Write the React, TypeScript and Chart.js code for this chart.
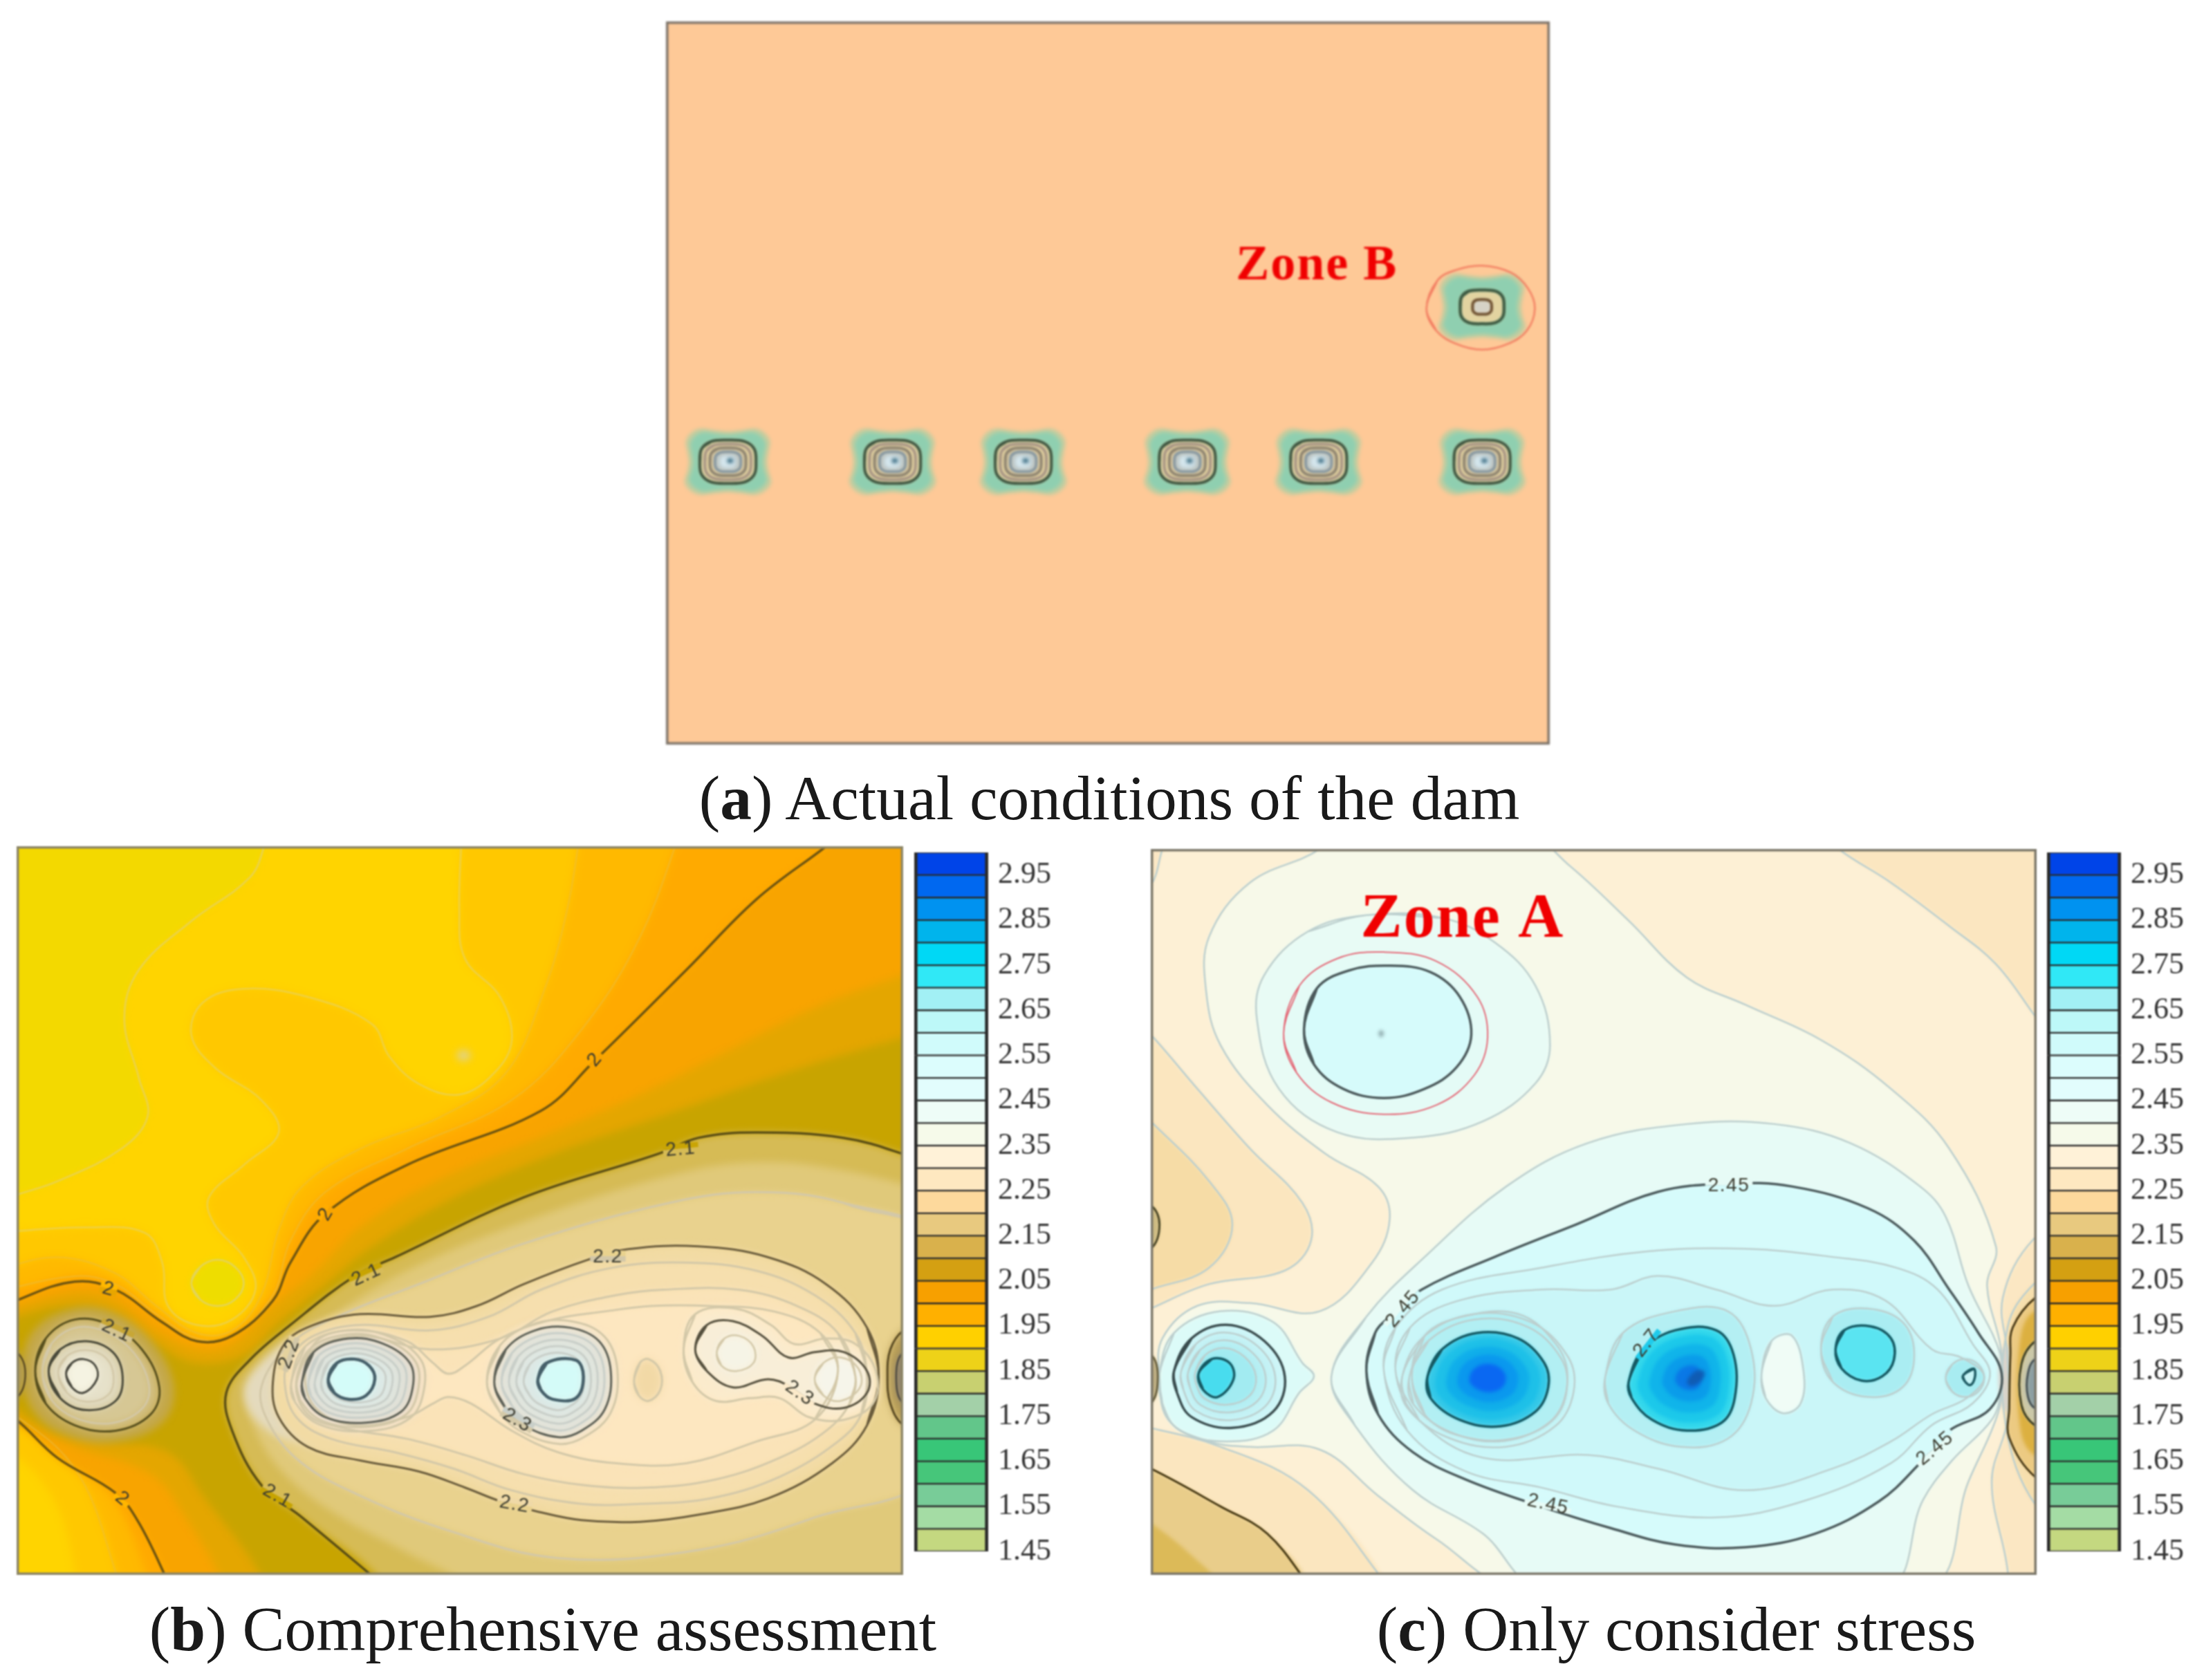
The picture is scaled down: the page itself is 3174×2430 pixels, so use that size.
import React, { useEffect, useRef } from "react";
import { Chart, registerables } from "chart.js";

Chart.register(...registerables);

type P = number[];

// ---------- colour scale ----------
const scaleTicks = [2.95, 2.85, 2.75, 2.65, 2.55, 2.45, 2.35, 2.25, 2.15, 2.05, 1.95, 1.85, 1.75, 1.65, 1.55, 1.45];
const scaleEdges = [3.0, 2.95, 2.9, 2.85, 2.8, 2.75, 2.7, 2.65, 2.6, 2.55, 2.5, 2.45, 2.4, 2.35, 2.3, 2.25, 2.2, 2.15, 2.1, 2.05, 2.0, 1.95, 1.9, 1.85, 1.8, 1.75, 1.7, 1.65, 1.6, 1.55, 1.5, 1.45];
const scaleColours = ["#0044e8", "#0068f0", "#0092f0", "#00b4ec", "#00d8f5", "#30e8f6", "#a2f0f5", "#bdf8f8", "#d0fbfb", "#dcfdfd", "#e2fdfd", "#eefdf7", "#f6faea", "#fff2d8", "#fee8c0", "#fdd99c", "#e8c97f", "#d9b14c", "#d4a012", "#f7a000", "#ffb000", "#ffd000", "#eed218", "#c8d070", "#a3d0a8", "#62c68a", "#38c678", "#46c67a", "#78cc98", "#a4dca4", "#c4d880"];

// ---------- panel (a) ----------
const aSites: P[] = [[125, 848], [412, 848], [640, 848], [926, 848], [1155, 848], [1440, 848]];
const aZoneSite: P = [1440, 555];
const aHalo: P[] = [[-66, -38], [-48, -56], [-20, -54], [0, -52], [20, -54], [48, -56], [66, -38], [64, -15], [62, 0], [64, 15], [68, 38], [48, 56], [20, 54], [0, 52], [-20, 54], [-48, 56], [-68, 38], [-64, 15], [-62, 0], [-64, -15]];
const aRing: P[] = [[-46, -24], [-30, -38], [0, -41], [30, -38], [46, -24], [49, 0], [46, 24], [30, 38], [0, 41], [-30, 38], [-46, 24], [-49, 0]];
const aZoneCircle: P[] = [[1343, 558], [1362, 505], [1395, 485], [1440, 477], [1490, 490], [1520, 520], [1532, 558], [1518, 600], [1485, 625], [1440, 636], [1395, 625], [1360, 600]];
const aBounds: P = [17, 1558, 15, 1383];

// ---------- panel (b) ----------
const bBounds: P = [30, 1552, 32, 1376];
const bNW: P[] = [[460, -10], [455, 32], [430, 90], [330, 170], [240, 260], [215, 350], [240, 460], [255, 530], [210, 590], [100, 650], [30, 675], [-10, 690]];
const bO1: P[] = [[795, -10], [790, 150], [800, 240], [860, 310], [880, 390], [850, 450], [790, 490], [720, 470], [670, 420], [640, 360], [530, 310], [420, 295], [350, 320], [330, 380], [370, 440], [450, 500], [480, 560], [420, 620], [360, 680], [370, 730], [420, 790], [440, 850], [400, 905], [340, 915], [290, 880], [280, 800], [250, 745], [150, 735], [-10, 745]];
const bO1Low: P[] = [[-10, 1130], [90, 1230], [135, 1400]];
const bO2: P[] = [[1000, -10], [975, 150], [935, 300], [870, 450], [760, 530], [620, 590], [520, 660], [480, 740], [450, 860], [400, 925], [340, 930], [270, 880], [200, 820], [100, 790], [-10, 815]];
const bO2Low: P[] = [[-10, 1050], [130, 1180], [210, 1400]];
const bO3: P[] = [[1175, -10], [1100, 200], [1000, 370], [880, 500], [700, 590], [560, 670], [500, 760], [470, 860], [400, 935], [340, 940], [270, 895], [200, 840], [130, 825], [-10, 855]];
const bO3Low: P[] = [[-10, 1075], [170, 1200], [260, 1400]];
const b20Upper: P[] = [[1450, 5], [1420, 32], [1300, 130], [1180, 260], [1020, 430], [930, 520], [700, 620], [560, 710], [500, 800], [470, 870], [400, 935], [340, 945], [280, 910], [200, 850], [130, 835], [30, 870], [-10, 895]];
const b20Lower: P[] = [[-10, 1065], [30, 1090], [100, 1160], [200, 1225], [240, 1280], [295, 1400]];
const bD2: P[] = [[1640, 245], [1552, 270], [1400, 330], [1250, 410], [1100, 490], [950, 560], [750, 650], [620, 735], [540, 820], [470, 880], [400, 950], [340, 960], [270, 925], [200, 870], [130, 855], [-10, 890]];
const bD2Low: P[] = [[-10, 1080], [130, 1140], [260, 1190], [320, 1270], [385, 1400]];
const bD3: P[] = [[1640, 365], [1552, 385], [1350, 450], [1150, 525], [950, 600], [780, 680], [640, 770], [560, 840], [480, 910], [420, 970], [340, 985], [270, 950], [190, 890], [110, 880], [-10, 910]];
const bD3Low: P[] = [[-10, 1050], [90, 1110], [170, 1130], [290, 1150], [350, 1230], [460, 1400]];
const b21Main: P[] = [[1600, 625], [1552, 600], [1450, 570], [1300, 560], [1200, 570], [1130, 600], [900, 680], [680, 790], [610, 825], [500, 915], [430, 980], [390, 1040], [400, 1110], [450, 1210], [520, 1270], [665, 1400]];
const bB1: P[] = [[1640, 680], [1450, 630], [1300, 615], [1150, 640], [900, 725], [700, 815], [560, 905], [470, 965], [425, 1040], [440, 1110], [490, 1190], [580, 1265], [700, 1335], [800, 1400]];
const bB2: P[] = [[1600, 760], [1450, 690], [1300, 670], [1150, 690], [900, 765], [720, 840], [580, 900], [500, 950], [450, 1030], [465, 1100], [520, 1170], [620, 1230], [760, 1290], [960, 1345], [1200, 1330], [1400, 1270], [1600, 1180]];
const bWestGlow: P[] = [[420, 1040], [450, 985], [510, 940], [580, 925], [580, 1130], [510, 1130], [450, 1100]];
const b22: P[] = [[1510, 1010], [1490, 920], [1420, 840], [1320, 790], [1200, 770], [1080, 775], [1010, 795], [900, 840], [820, 880], [740, 900], [620, 895], [540, 915], [490, 950], [470, 1020], [480, 1085], [530, 1140], [620, 1165], [720, 1185], [800, 1215], [860, 1240], [920, 1258], [1000, 1275], [1100, 1278], [1200, 1265], [1320, 1235], [1430, 1170], [1490, 1100]];
const bT1: P[] = [[1490, 1010], [1470, 930], [1400, 860], [1300, 815], [1180, 800], [1050, 810], [930, 850], [840, 900], [740, 925], [620, 915], [540, 935], [500, 975], [490, 1020], [510, 1085], [570, 1125], [680, 1150], [780, 1180], [880, 1220], [1000, 1245], [1100, 1245], [1220, 1235], [1340, 1195], [1440, 1130], [1480, 1080]];
const bT2: P[] = [[1470, 1010], [1440, 930], [1370, 880], [1270, 850], [1140, 850], [1060, 860], [950, 890], [860, 940], [740, 960], [620, 935], [540, 960], [510, 1020], [530, 1080], [590, 1105], [700, 1125], [800, 1155], [900, 1190], [1000, 1210], [1110, 1215], [1230, 1200], [1340, 1160], [1420, 1110], [1460, 1060]];
const bT3: P[] = [[1440, 1000], [1410, 930], [1330, 890], [1220, 880], [1120, 880], [1040, 890], [950, 905], [860, 940], [800, 990], [771, 1005], [745, 985], [700, 945], [610, 925], [545, 945], [525, 1010], [545, 1070], [610, 1100], [700, 1085], [745, 1060], [771, 1048], [810, 1060], [880, 1110], [960, 1150], [1060, 1170], [1180, 1170], [1300, 1130], [1400, 1090]];
const bLeft21: P[] = [[62, 1000], [80, 940], [130, 905], [190, 915], [245, 960], [275, 1030], [260, 1080], [200, 1110], [130, 1100], [80, 1060]];
const bLeftHalo: P[] = [[40, 1000], [60, 925], [130, 885], [200, 895], [265, 950], [300, 1030], [280, 1095], [200, 1130], [120, 1120], [60, 1075]];
const bLeft22: P[] = [[85, 1000], [105, 960], [150, 945], [195, 965], [212, 1010], [200, 1055], [150, 1072], [105, 1050]];
const bLeft23: P[] = [[115, 1005], [125, 985], [145, 978], [165, 990], [168, 1015], [145, 1040], [125, 1030]];
const bBlob1: P[] = [[520, 1020], [540, 965], [600, 940], [660, 950], [705, 985], [710, 1030], [690, 1075], [630, 1095], [560, 1085], [525, 1050]];
const bBlob1Core: P[] = [[565, 1015], [580, 985], [610, 978], [635, 990], [645, 1015], [630, 1045], [600, 1052], [575, 1040]];
const bBlob1Centre: P = [612, 1017];
const bBlob2: P[] = [[850, 1020], [870, 960], [920, 925], [980, 920], [1030, 945], [1050, 1000], [1040, 1070], [1000, 1110], [960, 1122], [900, 1100], [870, 1070]];
const bBlob2Core: P[] = [[925, 1015], [940, 985], [990, 980], [1003, 1010], [990, 1050], [950, 1052], [930, 1035]];
const bBlob2Centre: P = [955, 1018];
const bBlob3: P[] = [[1195, 960], [1215, 915], [1260, 908], [1310, 935], [1355, 975], [1400, 965], [1450, 965], [1490, 1000], [1490, 1040], [1450, 1068], [1400, 1060], [1360, 1030], [1320, 1015], [1260, 1030], [1215, 1000]];
const bBlob3Outer: P[] = [[1175, 960], [1195, 895], [1265, 885], [1325, 915], [1365, 950], [1420, 940], [1470, 950], [1505, 1000], [1500, 1060], [1450, 1090], [1390, 1085], [1340, 1050], [1290, 1050], [1230, 1055], [1190, 1020]];
const bBlob3A: P[] = [[1232, 965], [1245, 940], [1270, 935], [1295, 955], [1295, 985], [1265, 1000], [1240, 990]];
const bBlob3B: P[] = [[1400, 1015], [1415, 985], [1445, 975], [1475, 995], [1478, 1030], [1445, 1055], [1415, 1045]];
const bOval: P[] = [[1090, 1018], [1100, 985], [1115, 978], [1135, 1000], [1135, 1035], [1115, 1055], [1098, 1045]];
const bEdgeR1: P[] = [[1600, 900], [1552, 925], [1530, 960], [1525, 1010], [1530, 1060], [1552, 1100], [1600, 1120]];
const bEdgeR2: P[] = [[1600, 950], [1552, 965], [1540, 1010], [1552, 1060], [1600, 1070]];
const bEdgeL: P[] = [[-10, 955], [30, 965], [45, 1005], [30, 1050], [-10, 1060]];
const bSpot: P[] = [[785, 418], [797, 408], [810, 418], [797, 428]];
const bCircle: P[] = [[330, 838], [345, 808], [375, 795], [405, 808], [420, 838], [405, 868], [375, 880], [345, 868]];
const bLabelText = ["2", "2", "2", "2", "2.1", "2.1", "2.1", "2.1", "2.2", "2.2", "2.2", "2.3", "2.3"];
const bLabelX = [1022, 560, 188, 212, 1170, 630, 202, 478, 1045, 497, 885, 890, 1375];
const bLabelY = [425, 710, 848, 1235, 590, 822, 925, 1230, 788, 968, 1245, 1090, 1040];
const bLabelAngle = [-50, -60, 15, 40, -5, -25, 25, 30, 0, -70, 10, 30, 35];

// ---------- panel (c) ----------
const cBounds: P = [30, 1550, 38, 1376];
const cNWCorner: P[] = [[65, -10], [50, 38], [30, 105], [-10, 135]];
const cCorner: P[] = [[1165, -10], [1210, 38], [1300, 100], [1400, 180], [1480, 250], [1550, 350], [1600, 420]];
const cPale: P[] = [[350, -10], [320, 38], [200, 100], [130, 200], [125, 300], [150, 400], [230, 510], [330, 600], [420, 660], [440, 720], [410, 800], [320, 890], [200, 875], [110, 880], [50, 940], [45, 1010], [60, 1090], [130, 1130], [200, 1140], [320, 1145], [420, 1230], [520, 1310], [660, 1400], [1360, 1400], [1433, 1204], [1484, 1077], [1490, 1010], [1488, 954], [1465, 843], [1480, 770], [1400, 590], [1300, 480], [1180, 390], [1050, 325], [950, 275], [850, 170], [750, 70], [650, -10]];
const cLeft1: P[] = [[-10, 500], [30, 540], [130, 650], [170, 730], [130, 810], [30, 850], [-10, 865]];
const cLeft2: P[] = [[-10, 340], [30, 380], [110, 480], [200, 590], [290, 690], [305, 760], [260, 815], [130, 840], [30, 885], [-10, 905]];
const cSW0: P[] = [[-10, 1095], [150, 1140], [300, 1220], [440, 1400]];
const cSW1: P[] = [[-10, 1165], [30, 1180], [150, 1250], [230, 1300], [305, 1400]];
const cSW2: P[] = [[-10, 1255], [30, 1280], [100, 1340], [150, 1400]];
const cTopLobe: P[] = [[400, 160], [300, 190], [225, 270], [212, 350], [250, 480], [350, 560], [480, 570], [600, 540], [690, 470], [715, 400], [690, 290], [620, 210], [530, 165]];
const cTopCore: P[] = [[293, 370], [315, 295], [370, 262], [440, 253], [510, 265], [560, 310], [580, 380], [555, 440], [500, 480], [430, 497], [360, 480], [310, 435]];
const cTopRed: P[] = [[258, 378], [285, 290], [350, 240], [430, 228], [520, 245], [590, 310], [608, 385], [585, 455], [520, 510], [430, 527], [340, 505], [280, 450]];
const cTopDot: P[] = [[421, 378], [425, 372], [430, 378], [425, 385]];
const cM0: P[] = [[340, 1010], [400, 900], [500, 790], [640, 660], [780, 580], [950, 545], [1100, 545], [1230, 580], [1350, 660], [1394, 716], [1433, 843], [1488, 970], [1488, 1040], [1473, 1090], [1405, 1165], [1355, 1238], [1290, 1400], [700, 1400], [600, 1300], [480, 1220], [380, 1100]];
const cM1: P[] = [[400, 1000], [415, 930], [440, 900], [495, 850], [620, 790], [760, 730], [900, 670], [1020, 655], [1130, 660], [1260, 700], [1340, 760], [1400, 850], [1450, 930], [1490, 1005], [1470, 1070], [1400, 1110], [1350, 1170], [1280, 1240], [1170, 1300], [1050, 1325], [930, 1320], [820, 1290], [700, 1250], [570, 1200], [480, 1150], [420, 1080]];
const cM2: P[] = [[430, 1000], [450, 920], [530, 850], [700, 810], [880, 780], [1050, 775], [1200, 790], [1310, 810], [1380, 850], [1440, 950], [1470, 1005], [1440, 1060], [1370, 1100], [1300, 1170], [1150, 1240], [1000, 1270], [830, 1250], [700, 1215], [570, 1185], [470, 1110]];
const cM3: P[] = [[450, 1000], [475, 920], [560, 870], [700, 850], [820, 850], [900, 825], [1000, 850], [1100, 880], [1200, 850], [1290, 870], [1370, 960], [1420, 975], [1460, 1010], [1430, 1050], [1370, 1080], [1300, 1130], [1200, 1180], [1050, 1220], [900, 1180], [780, 1155], [600, 1160], [490, 1090]];
const cA0: P[] = [[478, 1010], [500, 935], [565, 900], [660, 895], [725, 950], [745, 1010], [725, 1085], [650, 1125], [555, 1118], [500, 1080]];
const cA1: P[] = [[505, 1010], [530, 960], [590, 930], [660, 940], [705, 985], [712, 1030], [690, 1075], [630, 1102], [560, 1090], [510, 1050]];
const cACentre: P = [608, 1012];
const cB0: P[] = [[810, 1010], [840, 930], [930, 890], [1020, 890], [1060, 960], [1060, 1060], [1020, 1125], [940, 1140], [860, 1110], [815, 1060]];
const cB1: P[] = [[850, 1020], [875, 960], [930, 925], [1000, 925], [1030, 970], [1032, 1050], [1010, 1095], [950, 1110], [890, 1090], [855, 1050]];
const cBCentre: P = [955, 1012];
const cBSpot: P[] = [[950, 1020], [965, 1000], [980, 1002], [975, 1018], [958, 1028]];
const cC0: P[] = [[1180, 960], [1200, 900], [1260, 885], [1320, 910], [1340, 970], [1320, 1030], [1260, 1048], [1200, 1020]];
const cC1: P[] = [[1205, 960], [1220, 925], [1265, 918], [1300, 940], [1305, 980], [1285, 1010], [1250, 1018], [1215, 995]];
const cD0: P[] = [[1394, 1013], [1405, 988], [1427, 978], [1450, 988], [1460, 1013], [1450, 1038], [1427, 1048], [1405, 1038]];
const cD1: P[] = [[1424, 1008], [1442, 996], [1444, 1012], [1436, 1026], [1426, 1018]];
const cOval: P[] = [[1078, 1005], [1095, 945], [1130, 935], [1150, 1000], [1145, 1060], [1115, 1078], [1085, 1050]];
const cE0: P[] = [[45, 1005], [70, 930], [150, 890], [240, 910], [290, 985], [310, 1010], [285, 1040], [240, 1110], [160, 1130], [80, 1110], [50, 1060]];
const cE1: P[] = [[70, 1000], [100, 940], [160, 915], [225, 945], [260, 1010], [240, 1075], [170, 1105], [100, 1085], [75, 1040]];
const cE3: P[] = [[112, 1005], [135, 978], [165, 985], [172, 1015], [145, 1048], [120, 1035]];
const cECentre: P = [150, 1010];
const cEdgeL1: P[] = [[-10, 690], [30, 695], [45, 730], [30, 775], [-10, 780]];
const cEdgeL2: P[] = [[-10, 965], [30, 970], [42, 1010], [30, 1060], [-10, 1065]];
const cCream: P[] = [[1600, 740], [1544, 758], [1492, 865], [1500, 971], [1500, 1090], [1473, 1204], [1500, 1366], [1505, 1480]];
const cCream2: P[] = [[1600, 810], [1545, 840], [1500, 920], [1497, 1100], [1548, 1247], [1600, 1260]];
const cApex: P[] = [[1488, 965], [1504, 955], [1504, 1075], [1488, 1060]];
const cEdgeR1: P[] = [[1600, 840], [1548, 865], [1509, 920], [1505, 971], [1503, 1069], [1503, 1123], [1548, 1196], [1600, 1215]];
const cEdgeGold: P[] = [[1600, 880], [1540, 895], [1520, 960], [1520, 1090], [1540, 1150], [1600, 1170]];
const cEdgeR2: P[] = [[1600, 925], [1548, 945], [1524, 987], [1524, 1063], [1548, 1101], [1600, 1120]];
const cEdgeR3: P[] = [[1600, 960], [1548, 978], [1535, 1005], [1535, 1047], [1548, 1069], [1600, 1080]];
const cLabelText = ["2.45", "2.45", "2.45", "2.45", "2.7"];
const cLabelX = [1022, 462, 712, 1375, 880];
const cLabelY = [658, 885, 1245, 1142, 948];
const cLabelAngle = [0, -50, 12, -40, -52];

// ---------- helpers ----------
type Layer = { p: P[]; fill?: string; line?: string; w?: number; flat?: boolean };
const X0 = -80, X1 = 1650, Y0 = -80, Y1 = 1480;
// closes a contour so the spline also stays smooth where it meets its own start
const loop = (p: P[]): P[] => [p[p.length - 1], ...p, p[0], p[1]];
const around = (p: P[], c: P, k: number): P[] => loop(p.map(([x, y]) => [c[0] + (x - c[0]) * k, c[1] + (y - c[1]) * k]));
const place = (site: P, tpl: P[], k = 1): P[] => loop(tpl.map(([dx, dy]) => [site[0] + dx * k, site[1] + dy * k]));
const thinB = "#d3c8a8";
const thinBlob = "#c9cfc9";
const thinC = "#bccfce";
const thinO = "rgba(232,190,70,0.55)";
const rect: P[] = [[X0, Y0], [X1, Y0], [X1, Y1], [X0, Y1]];

const aLayers: Layer[] = [
  { p: rect, fill: "#fec997", flat: true },
  ...[...aSites, aZoneSite].flatMap((s): Layer[] => [
    { p: place(s, aHalo, 1.1), fill: "#c0cda0" },
    { p: place(s, aHalo, 0.98), fill: "#8fcfb0" },
  ]),
  ...aSites.flatMap((s): Layer[] => [
    { p: place(s, aRing), fill: "#dccb9c", line: "#3f5540", w: 4 },
    { p: place(s, aRing, 0.82), fill: "#e0cf9e", line: "#a89684", w: 4 },
    { p: place(s, aRing, 0.64), fill: "#d2c29c", line: "#8e8470", w: 4 },
    { p: place(s, aRing, 0.46), fill: "#bcc6c6", line: "#8a9aa2", w: 4 },
    { p: place(s, aRing, 0.28), fill: "#d6e8ef" },
    { p: place([s[0] + 4, s[1] - 2], aRing, 0.1), fill: "#174f68" },
  ]),
  { p: place(aZoneSite, aRing, 0.78), fill: "#e2d3a0", line: "#3d5a42", w: 4.5 },
  { p: place(aZoneSite, aRing, 0.34), fill: "#d6d2c6", line: "#6e5030", w: 4 },
  { p: loop(aZoneCircle), line: "#f27c60", w: 2.5 },
  { p: [[17, 15], [1558, 15], [1558, 1383], [17, 1383], [17, 15]], line: "#7b7268", w: 7, flat: true },
];

const bLayers: Layer[] = [
  { p: rect, fill: "#ffd400", flat: true },
  { p: [...bNW, [X0, 690], [X0, Y0], [460, Y0]], fill: "#f3d900" },
  { p: bNW, line: "rgba(226,208,110,0.7)", w: 2.5 },
  { p: [...bO1, [X0, 745], [X0, 1130], ...bO1Low, [135, Y1], [X1, Y1], [X1, Y0], [795, Y0]], fill: "#ffc800" },
  { p: bO1, line: "rgba(232,208,90,0.75)", w: 2.5 },
  { p: loop(bCircle), fill: "#eedd00", line: "#e2d45a", w: 2.5 },
  { p: loop(bSpot), fill: "#e0d290" },
  { p: [...bO2, [X0, 815], [X0, 1050], ...bO2Low, [210, Y1], [X1, Y1], [X1, Y0], [1000, Y0]], fill: "#ffb900" },
  { p: bO2, line: thinO, w: 2 },
  { p: bO2Low, line: thinO, w: 2 },
  { p: [...bO3, [X0, 855], [X0, 1075], ...bO3Low, [260, Y1], [X1, Y1], [X1, Y0], [1175, Y0]], fill: "#ffaa00" },
  { p: bO3, line: thinO, w: 2 },
  { p: [...b20Upper, [X0, 895], [X0, 1065], ...b20Lower, [295, Y1], [X1, Y1], [X1, Y0], [1450, Y0]], fill: "#f8a400" },
  { p: [...bD2, [X0, 890], [X0, 1080], ...bD2Low, [385, Y1], [X1, Y1]], fill: "#e4a600" },
  { p: [...bD3, [X0, 910], [X0, 1050], ...bD3Low, [460, Y1], [X1, Y1]], fill: "#c8a400" },
  { p: [...b21Main, [665, Y1], [X1, Y1], [X1, 625]], fill: "#d6bb55" },
  { p: [...bB1, [800, Y1], [X1, Y1]], fill: "#e0c97a" },
  { p: loop(bB2), fill: "#e9d28e", line: thinB, w: 3 },
  { p: loop(bWestGlow), fill: "#e4dabd" },
  { p: loop(b22), fill: "#f2dba4", line: "#6a5c3c", w: 3 },
  { p: loop(bT1), fill: "#f6dfae", line: thinB, w: 3 },
  { p: loop(bT2), fill: "#fae3b8", line: thinB, w: 3 },
  { p: loop(bT3), fill: "#fde7c0", line: thinB, w: 3 },
  { p: loop(bOval), fill: "#f2d9a6", line: thinB, w: 3 },
  { p: loop(bLeftHalo), fill: "#c4a84a" },
  { p: loop(bLeft21), fill: "#d0bb78", line: "#58501e", w: 3 },
  { p: around(bLeft21, [150, 1010], 0.86), fill: "#d6c794", line: thinB, w: 2.5 },
  { p: loop(bLeft22), fill: "#ded6b8", line: "#4a4a3a", w: 3 },
  { p: around(bLeft22, [150, 1010], 0.75), fill: "#e6e1ca", line: thinB, w: 2.5 },
  { p: loop(bLeft23), fill: "#f5f3e2", line: "#4a4a40", w: 3 },
  { p: around(bBlob1, bBlob1Centre, 1.2), fill: "#f5e3c6", line: thinB, w: 3 },
  { p: around(bBlob1, bBlob1Centre, 1.1), fill: "#efddc8", line: thinB, w: 3 },
  { p: loop(bBlob1), fill: "#e2dfd4", line: "#5f6258", w: 3 },
  { p: around(bBlob1, bBlob1Centre, 0.88), fill: "#e0e1d8", line: thinBlob, w: 3 },
  { p: around(bBlob1, bBlob1Centre, 0.76), fill: "#dfe4dc", line: thinBlob, w: 3 },
  { p: around(bBlob1, bBlob1Centre, 0.64), fill: "#dee7e2", line: thinBlob, w: 3 },
  { p: around(bBlob1, bBlob1Centre, 0.52), fill: "#dce9e6", line: thinBlob, w: 3 },
  { p: loop(bBlob1Core), fill: "#d4fcf9", line: "#46606a", w: 4.5 },
  { p: around(bBlob2, bBlob2Centre, 1.12), fill: "#f8e6c8", line: thinB, w: 3 },
  { p: loop(bBlob2), fill: "#e6e3d6", line: "#5f6258", w: 3 },
  { p: around(bBlob2, bBlob2Centre, 0.88), fill: "#e2e3da", line: thinBlob, w: 3 },
  { p: around(bBlob2, bBlob2Centre, 0.76), fill: "#e0e5dd", line: thinBlob, w: 3 },
  { p: around(bBlob2, bBlob2Centre, 0.64), fill: "#dfe7e2", line: thinBlob, w: 3 },
  { p: around(bBlob2, bBlob2Centre, 0.52), fill: "#dce9e6", line: thinBlob, w: 3 },
  { p: loop(bBlob2Core), fill: "#d4fbf8", line: "#46606a", w: 4.5 },
  { p: loop(bBlob3Outer), fill: "#fbebcc", line: thinB, w: 3 },
  { p: loop(bBlob3), fill: "#f8eed8", line: "#55503e", w: 3 },
  { p: loop(bBlob3A), fill: "#f6f4e6", line: thinB, w: 2.5 },
  { p: loop(bBlob3B), fill: "#f6f5ea", line: thinB, w: 2.5 },
  { p: bEdgeR1, fill: "#b69c55", line: "#5a4a22", w: 3 },
  { p: bEdgeR2, fill: "#8a8072", line: "#4e4a42", w: 2.5 },
  { p: bEdgeL, fill: "#b09a55", line: "#5a4a22", w: 2.5 },
  { p: b20Upper, line: "#6f5510", w: 3.5 },
  { p: b20Lower, line: "#6f5510", w: 3.5 },
  { p: b21Main, line: "#5c4f14", w: 3.5 },
  { p: [[30, 32], [1552, 32], [1552, 1376], [30, 1376], [30, 32]], line: "#8c8566", w: 7, flat: true },
];

const cLayers: Layer[] = [
  { p: rect, fill: "#fdf0d5", flat: true },
  { p: [...cNWCorner, [X0, 135], [X0, Y0], [65, Y0]], fill: "#fbe7c4" },
  { p: cNWCorner, line: thinC, w: 2.5 },
  { p: [...cCorner, [X1, 420], [X1, Y0], [1165, Y0]], fill: "#fbe6c0" },
  { p: cCorner, line: thinC, w: 2.5 },
  { p: [...cLeft2, [X0, 905], [X0, 340]], fill: "#fbe6bf" },
  { p: cLeft2, line: thinC, w: 2.5 },
  { p: [...cLeft1, [X0, 865], [X0, 500]], fill: "#f6dca6" },
  { p: cLeft1, line: thinC, w: 2.5 },
  { p: [...cSW0, [440, Y1], [X0, Y1], [X0, 1095]], fill: "#fbe6bf" },
  { p: cSW0, line: thinC, w: 2.5 },
  { p: [...cSW1, [305, Y1], [X0, Y1], [X0, 1165]], fill: "#e9cd8a" },
  { p: [...cSW2, [150, Y1], [X0, Y1], [X0, 1255]], fill: "#dcba58" },
  { p: loop(cPale), fill: "#f7f9e9", line: thinC, w: 2.5 },
  { p: [...cCream, [X1, Y1], [X1, 740]], fill: "#fbe7c3" },
  { p: cCream, line: thinC, w: 2.5 },
  { p: cCream2, fill: "#f6dfae", line: thinC, w: 2.5 },
  { p: loop(cTopLobe), fill: "#e8fbf5", line: thinC, w: 2.5 },
  { p: loop(cTopRed), fill: "#e4fbf6" },
  { p: loop(cTopCore), fill: "#d6fbfb", line: "#4c5a5c", w: 3.5 },
  { p: loop(cTopRed), line: "#e46a78", w: 2 },
  { p: loop(cTopDot), fill: "#8aa5a8" },
  { p: loop(cM0), fill: "#e7fbf6", line: thinC, w: 2.5 },
  { p: loop(cM1), fill: "#d6fbfb", line: "#4b5a5c", w: 3.5 },
  { p: loop(cM2), fill: "#d0f9fa", line: thinC, w: 2.5 },
  { p: loop(cM3), fill: "#caf6f8", line: thinC, w: 2.5 },
  { p: loop(cOval), fill: "#f0fcf6", line: thinC, w: 2.5 },
  { p: around(cA1, cACentre, 1.42), fill: "#c6f4f6", line: thinC, w: 2.5 },
  { p: around(cA1, cACentre, 1.3), fill: "#bff2f5", line: thinC, w: 2.5 },
  { p: loop(cA0), fill: "#b2eff3", line: thinC, w: 2.5 },
  { p: loop(cA1), fill: "#34c9e8", line: "#165a64", w: 3.5 },
  { p: around(cA1, cACentre, 0.86), fill: "#1ec0e8" },
  { p: around(cA1, cACentre, 0.68), fill: "#10aeea" },
  { p: around(cA1, cACentre, 0.5), fill: "#0a98ee" },
  { p: around(cA1, cACentre, 0.3), fill: "#0a68f2" },
  { p: loop(cB0), fill: "#b4eff3", line: thinC, w: 2.5 },
  { p: loop(cB1), fill: "#34d8ec", line: "#165a64", w: 3.5 },
  { p: around(cB1, cBCentre, 0.85), fill: "#1cc8ea" },
  { p: around(cB1, cBCentre, 0.66), fill: "#10b4ea" },
  { p: around(cB1, cBCentre, 0.45), fill: "#0a9cea" },
  { p: around(cB1, cBCentre, 0.24), fill: "#0a78e6" },
  { p: loop(cBSpot), fill: "#0f5cb4" },
  { p: loop(cC0), fill: "#aaedf2", line: thinC, w: 2.5 },
  { p: loop(cC1), fill: "#5ae4f1", line: "#165a64", w: 3.5 },
  { p: loop(cD0), fill: "#a8ecf1", line: thinC, w: 2.5 },
  { p: loop(cD1), fill: "#c7f4f6", line: "#1d5a62", w: 3.5 },
  { p: loop(cE0), fill: "#dcfbf8", line: thinC, w: 2.5 },
  { p: loop(cE1), fill: "#cdf5f7", line: "#3a4c4e", w: 3.5 },
  { p: around(cE1, cECentre, 0.85), fill: "#c4f2f5", line: thinC, w: 2.5 },
  { p: around(cE1, cECentre, 0.7), fill: "#b6eff3", line: thinC, w: 2.5 },
  { p: around(cE1, cECentre, 0.55), fill: "#a2ebf1", line: thinC, w: 2.5 },
  { p: loop(cE3), fill: "#48dcee", line: "#165a64", w: 3.5 },
  { p: cSW1, line: "#4a3c16", w: 3 },
  { p: cEdgeL1, fill: "#cdbb82", line: "#4e4a2a", w: 3 },
  { p: cEdgeL2, fill: "#b9a97c", line: "#6a6240", w: 3 },
  { p: loop(cApex), fill: "#d8d4cc" },
  { p: cEdgeR1, fill: "#ecca82", line: "#4e3e1a", w: 3 },
  { p: cEdgeGold, fill: "#dcb040" },
  { p: cEdgeR2, fill: "#cbc8a8", line: "#44462a", w: 3 },
  { p: cEdgeR3, fill: "#8c9fa2", line: "#4a5558", w: 3 },
  { p: [[30, 38], [1550, 38], [1550, 1376], [30, 1376], [30, 38]], line: "#7c786a", w: 7, flat: true },
];

// ---------- chart builders ----------
type Lbl = { text: string; x: number; y: number; angle: number };
type Note = { text: string; x: number; y: number; size: number };

function contourConfig(layers: Layer[], bounds: P, labels: Lbl[], notes: Note[], blurPx: number): any {
  const toPts = (p: P[]) => p.map(([x, y]) => ({ x, y }));
  const fills = layers.filter((l) => l.fill).map((l) => ({
    data: toPts(l.p), backgroundColor: l.fill, fill: "shape", borderWidth: 0, pointRadius: 0,
    tension: l.flat ? 0 : 0.38, isFill: true,
  }));
  const lines = layers.filter((l) => l.line).map((l) => ({
    data: toPts(l.p), borderColor: l.line, borderWidth: l.w, fill: false, pointRadius: 0,
    tension: l.flat ? 0 : 0.38, isFill: false,
  }));
  const all = [...fills, ...lines].map((d, i, arr) => ({ ...d, order: arr.length - i }));
  const softFills = {
    id: "softFills",
    beforeDatasetsDraw(c: any) { c.ctx.filter = `blur(${blurPx}px)`; },
    afterDatasetDraw(c: any, a: any) {
      const next = c.data.datasets[a.index + 1];
      if (!next || !next.isFill) c.ctx.filter = "none";
    },
    afterDatasetsDraw(c: any) { c.ctx.filter = "none"; },
  };
  const annotate = {
    id: "annotate",
    afterDatasetsDraw(c: any) {
      const ctx = c.ctx, sx = c.scales.x, sy = c.scales.y;
      for (const l of labels) {
        const px = sx.getPixelForValue(l.x), py = sy.getPixelForValue(l.y), a = (l.angle * Math.PI) / 180;
        const above = ctx.getImageData(Math.round(px + Math.sin(a) * 17), Math.round(py - Math.cos(a) * 17), 1, 1).data;
        const below = ctx.getImageData(Math.round(px - Math.sin(a) * 17), Math.round(py + Math.cos(a) * 17), 1, 1).data;
        ctx.save();
        ctx.translate(px, py);
        ctx.rotate(a);
        ctx.font = "28px 'Liberation Sans'";
        ctx.letterSpacing = "1.5px";
        const w = ctx.measureText(l.text).width;
        ctx.fillStyle = `rgb(${above[0]},${above[1]},${above[2]})`;
        ctx.fillRect(-w / 2 - 4, -8, w + 8, 8);
        ctx.fillStyle = `rgb(${below[0]},${below[1]},${below[2]})`;
        ctx.fillRect(-w / 2 - 4, 0, w + 8, 8);
        ctx.fillStyle = "#3c3c30";
        ctx.textAlign = "center";
        ctx.textBaseline = "middle";
        ctx.fillText(l.text, 0, 1);
        ctx.restore();
      }
      for (const n of notes) {
        ctx.save();
        ctx.font = `bold ${n.size}px 'Liberation Serif'`;
        ctx.letterSpacing = "2px";
        ctx.fillStyle = "#f00000";
        ctx.textAlign = "center";
        ctx.textBaseline = "middle";
        ctx.fillText(n.text, sx.getPixelForValue(n.x), sy.getPixelForValue(n.y));
        ctx.restore();
      }
    },
  };
  return {
    type: "line",
    data: { datasets: all },
    options: {
      responsive: false, animation: false,
      layout: { padding: 0 },
      elements: { line: { capBezierPoints: false } },
      plugins: { legend: { display: false }, tooltip: { enabled: false } },
      scales: {
        x: { type: "linear", display: false, min: bounds[0], max: bounds[1] },
        y: { type: "linear", display: false, min: bounds[2], max: bounds[3], reverse: true },
      },
    },
    plugins: [softFills, annotate],
  };
}

function legendConfig(): any {
  return {
    type: "bar",
    data: {
      labels: ["scale"],
      datasets: scaleColours.map((c, i) => ({
        data: [[scaleEdges[i + 1], scaleEdges[i]]],
        backgroundColor: c, borderColor: "#2b2b2b",
        borderWidth: { top: 1.5, bottom: 1.5, left: 5, right: 5 }, borderSkipped: false,
        grouped: false, barPercentage: 1, categoryPercentage: 1,
      })),
    },
    options: {
      responsive: false, animation: false,
      layout: { padding: { top: 24, bottom: 24, left: 0, right: 0 } },
      plugins: { legend: { display: false }, tooltip: { enabled: false } },
      scales: {
        x: { display: false },
        y: {
          position: "right", min: 1.45, max: 3.0,
          grid: { display: false }, border: { display: false },
          afterBuildTicks: (s: any) => { s.ticks = scaleTicks.map((value) => ({ value })); },
          afterFit: (s: any) => { s.paddingTop = 0; s.paddingBottom = 0; s.width = 95; },
          ticks: {
            autoSkip: false, padding: 6, color: "#333", font: { family: "Liberation Serif", size: 44 },
            callback: (v: number) => v.toFixed(2),
          },
        },
      },
    },
  };
}

const toLabels = (t: string[], x: number[], y: number[], a: number[]): Lbl[] => t.map((text, i) => ({ text, x: x[i], y: y[i], angle: a[i] }));

function ChartBox({ config, left, top, width, height, blur }: any) {
  const ref = useRef<HTMLCanvasElement>(null);
  useEffect(() => {
    const chart = new Chart(ref.current as HTMLCanvasElement, config);
    return () => chart.destroy();
  }, []);
  return (
    <canvas ref={ref} width={width} height={height}
      style={{ position: "absolute", left, top, width, height, filter: `blur(${blur}px)` }} />
  );
}

const capStyle = (center: number, top: number): React.CSSProperties => ({
  position: "absolute", left: center - 800, width: 1600, top, textAlign: "center",
  fontFamily: "'Liberation Serif'", fontSize: 91.5, lineHeight: "100px", color: "#1a1a1a", whiteSpace: "nowrap",
});

export default function App() {
  return (
    <div style={{ position: "absolute", left: 0, top: 0, width: 3174, height: 2430, background: "#fff", overflow: "hidden" }}>
      <ChartBox config={contourConfig(aLayers, aBounds, [], [{ text: "Zone B", x: 1152, y: 478, size: 72 }], 2.5)} left={963} top={31} width={1278} height={1046} blur={1.5} />
      <ChartBox config={contourConfig(bLayers, bBounds, toLabels(bLabelText, bLabelX, bLabelY, bLabelAngle), [], 6)} left={24} top={1224} width={1282} height={1054} blur={1.2} />
      <ChartBox config={contourConfig(cLayers, cBounds, toLabels(cLabelText, cLabelX, cLabelY, cLabelAngle), [{ text: "Zone A", x: 565, y: 170, size: 90 }], 2.5)} left={1664} top={1228} width={1281} height={1050} blur={1.2} />
      <ChartBox config={legendConfig()} left={1322} top={1209} width={202} height={1059} blur={1} />
      <ChartBox config={legendConfig()} left={2960} top={1209} width={202} height={1059} blur={1} />
      <div style={capStyle(1604, 1104)}>(<b>a</b>) Actual conditions of the dam</div>
      <div style={capStyle(785, 2306)}>(<b>b</b>) Comprehensive assessment</div>
      <div style={capStyle(2424, 2306)}>(<b>c</b>) Only consider stress</div>
    </div>
  );
}
